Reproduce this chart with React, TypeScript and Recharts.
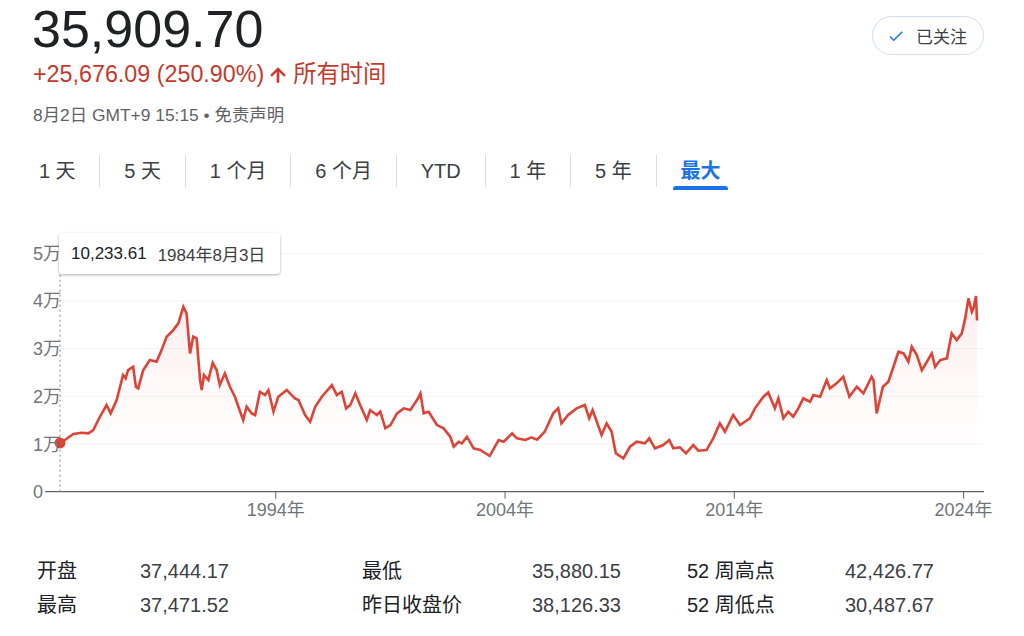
import React from "react";
import {
  AreaChart,
  Area,
  XAxis,
  YAxis,
  CartesianGrid,
  ReferenceLine,
  ReferenceDot,
} from "recharts";

const FONT = '"Liberation Sans", "Noto Sans CJK SC", Arial, sans-serif';
const RED = "#db4437";
const BLUE = "#1a73e8";

const price = "35,909.70";
const change = "+25,676.09 (250.90%)";
const changeLabel = "所有时间";
const stamp = "8月2日 GMT+9 15:15 • 免责声明";
const followLabel = "已关注";
const ranges = ["1 天", "5 天", "1 个月", "6 个月", "YTD", "1 年", "5 年", "最大"];
const activeRange = "最大";

const hoverValue = "10,233.61";
const hoverDate = "1984年8月3日";

// decimal years
const tradeYears = [
  1984.59, 1984.85, 1985.17, 1985.54, 1985.83, 1986.04, 1986.33, 1986.62, 1986.8, 1987.06,
  1987.34, 1987.45, 1987.56, 1987.78, 1987.9, 1988.0, 1988.22, 1988.51, 1988.8, 1989.02,
  1989.24, 1989.53, 1989.75, 1989.97, 1990.11, 1990.26, 1990.4, 1990.55, 1990.7, 1990.77,
  1990.87, 1991.06, 1991.25, 1991.42, 1991.56, 1991.78, 1992.0, 1992.22, 1992.37, 1992.58,
  1992.73, 1992.95, 1993.1, 1993.31, 1993.53, 1993.68, 1993.9, 1994.11, 1994.48, 1994.62,
  1994.84, 1994.99, 1995.28, 1995.5, 1995.72, 1996.01, 1996.45, 1996.66, 1996.88, 1997.07,
  1997.25, 1997.47, 1997.68, 1997.97, 1998.12, 1998.41, 1998.56, 1998.78, 1999.0, 1999.29,
  1999.58, 1999.87, 2000.16, 2000.31, 2000.45, 2000.67, 2001.03, 2001.32, 2001.61, 2001.76,
  2001.98, 2002.12, 2002.34, 2002.63, 2002.92, 2003.33, 2003.72, 2003.94, 2004.31, 2004.52,
  2004.89, 2005.15, 2005.4, 2005.73, 2006.1, 2006.32, 2006.46, 2006.75, 2007.12, 2007.48,
  2007.67, 2007.82, 2008.21, 2008.43, 2008.65, 2008.83, 2009.16, 2009.45, 2009.74, 2010.1,
  2010.29, 2010.54, 2010.9, 2011.16, 2011.34, 2011.63, 2011.89, 2012.21, 2012.43, 2012.79,
  2013.08, 2013.37, 2013.59, 2013.95, 2014.25, 2014.68, 2014.9, 2015.27, 2015.48, 2015.77,
  2015.92, 2016.14, 2016.35, 2016.57, 2016.79, 2017.01, 2017.3, 2017.45, 2017.74, 2018.03,
  2018.17, 2018.46, 2018.75, 2019.02, 2019.34, 2019.63, 2019.99, 2020.07, 2020.21, 2020.48,
  2020.72, 2020.94, 2021.16, 2021.38, 2021.59, 2021.74, 2021.96, 2022.18, 2022.4, 2022.61,
  2022.76, 2022.98, 2023.27, 2023.48, 2023.7, 2023.92, 2024.07, 2024.21, 2024.36, 2024.43,
  2024.54, 2024.585,
];

const closeValues = [
  10233.61, 11000, 12100, 12370, 12240, 12930, 15720, 18180, 16430, 19220,
  24460, 23800, 25510, 26210, 22010, 21680, 25510, 27610, 27250, 29700,
  32500, 33900, 35300, 38790, 37400, 29000, 32500, 32150, 23420, 21320,
  24460, 23420, 27040, 25510, 22370, 24820, 22010, 19920, 17820, 15030,
  17820, 16430, 16080, 20960, 20270, 21320, 16770, 19920, 21320, 20630,
  19580, 19220, 16080, 14680, 17820, 19920, 22370, 20270, 20960, 17480,
  18180, 20630, 18180, 15030, 17130, 16080, 16770, 13290, 13980, 16430,
  17480, 17130, 19220, 20630, 16430, 16770, 13980, 13290, 11530, 9430,
  10480, 10150, 11530, 9100, 8740, 7480, 10840, 10480, 12240, 11190,
  10840, 11400, 10900, 12580, 16430, 17480, 14340, 16080, 17480, 18180,
  15390, 17130, 11890, 14340, 12580, 8050, 7000, 9430, 10480, 10150,
  11190, 9100, 9790, 10840, 9100, 9310, 8050, 9790, 8600, 8740,
  11190, 14340, 12580, 16080, 13980, 15390, 17480, 19920, 20800, 17480,
  19580, 15390, 16770, 15720, 17480, 19580, 18870, 20270, 19920, 23420,
  21680, 22720, 24110, 19920, 22010, 20630, 24110, 23420, 16430, 22010,
  23060, 26210, 29350, 29000, 27250, 30400, 28660, 25510, 27250, 29000,
  26210, 27610, 27970, 33210, 31800, 33210, 36350, 40540, 37740, 38440,
  41030, 35909.7,
];

const yTicks = [0, 10000, 20000, 30000, 40000, 50000];
const xTicks = [1994, 2004, 2014, 2024];

const statLabels = [
  ["开盘", "最高"],
  ["最低", "昨日收盘价"],
  ["52 周高点", "52 周低点"],
];
const statValues = [
  ["37,444.17", "37,471.52"],
  ["35,880.15", "38,126.33"],
  ["42,426.77", "30,487.67"],
];

const rows = tradeYears.map((t, i) => ({ t, v: closeValues[i] }));

const fmtY = (n: number) => (n === 0 ? "0" : `${n / 10000}万`);

const YTick = (props: any) => {
  const { y, payload } = props;
  return (
    <text
      x={33}
      y={y}
      dy="0.36em"
      textAnchor="start"
      fill="#70757a"
      fontSize={18}
      fontFamily={FONT}
    >
      {fmtY(payload.value)}
    </text>
  );
};

const labelCols = [37, 362, 687];
const valueCols = [140, 532, 845];
const rowTops = [561, 595];

export default function App() {
  return (
    <div
      style={{
        position: "absolute",
        left: 0,
        top: 0,
        width: 1024,
        height: 636,
        background: "#fff",
        fontFamily: FONT,
        overflow: "hidden",
      }}
    >
      {/* header */}
      <div style={{ position: "absolute", left: 32, top: 3, fontSize: 52, lineHeight: "52px", color: "#202124" }}>
        {price}
      </div>
      <div
        style={{
          position: "absolute",
          left: 33,
          top: 63,
          fontSize: 23.3,
          lineHeight: "23px",
          color: "#c5392b",
          whiteSpace: "nowrap",
          display: "flex",
          alignItems: "center",
        }}
      >
        <span>{change}</span>
        <svg width="22" height="22" viewBox="0 0 24 24" style={{ margin: "0 4px 0 3px" }}>
          <path fill="#c5392b" stroke="#c5392b" strokeWidth={1} d="M4 12l1.41 1.41L11 7.83V20h2V7.83l5.58 5.59L20 12l-8-8-8 8z" />
        </svg>
        <span>{changeLabel}</span>
      </div>
      <div
        style={{
          position: "absolute",
          left: 33,
          top: 107,
          fontSize: 17.4,
          lineHeight: "17px",
          color: "#5f6368",
          whiteSpace: "nowrap",
        }}
      >
        {stamp}
      </div>

      {/* follow button */}
      <div
        style={{
          position: "absolute",
          left: 872,
          top: 16,
          width: 110,
          height: 37,
          border: "1px solid #d2dbe8",
          borderRadius: 20,
          display: "flex",
          alignItems: "center",
          boxSizing: "content-box",
        }}
      >
        <svg width="18" height="18" viewBox="0 0 24 24" style={{ marginLeft: 14 }}>
          <path fill={BLUE} d="M9 16.17L4.83 12l-1.42 1.41L9 19 21 7l-1.41-1.41z" />
        </svg>
        <span style={{ marginLeft: 11, fontSize: 17, color: "#3c4043" }}>{followLabel}</span>
      </div>

      {/* range tabs */}
      <div style={{ position: "absolute", left: 15, top: 155, height: 36, display: "flex" }}>
        {ranges.map((r, i) => (
          <div
            key={r}
            style={{
              position: "relative",
              padding: "0 23.9px",
              height: 32,
              lineHeight: "32px",
              fontSize: 20,
              whiteSpace: "nowrap",
              color: r === activeRange ? BLUE : "#3c4043",
              fontWeight: r === activeRange ? 600 : 400,
              borderLeft: i === 0 ? "none" : "1px solid #dadce0",
            }}
          >
            {r}
            {r === activeRange && (
              <div
                style={{
                  position: "absolute",
                  left: 16,
                  right: 16,
                  top: 31,
                  height: 4,
                  background: BLUE,
                  borderRadius: "3px 3px 0 0",
                }}
              />
            )}
          </div>
        ))}
      </div>

      {/* chart */}
      <div style={{ position: "absolute", left: 0, top: 230 }}>
        <AreaChart
          width={1024}
          height={310}
          data={rows}
          margin={{ top: 23.3, right: 40, bottom: 8.3, left: 0 }}
        >
          <defs>
            <linearGradient id="fade" x1="0" y1="0" x2="0" y2="1">
              <stop offset="0%" stopColor={RED} stopOpacity={0.16} />
              <stop offset="45%" stopColor={RED} stopOpacity={0.06} />
              <stop offset="80%" stopColor={RED} stopOpacity={0} />
            </linearGradient>
          </defs>
          <CartesianGrid horizontal vertical={false} stroke="#f1f3f4" />
          <XAxis
            dataKey="t"
            type="number"
            domain={[1984.59, 2024.89]}
            ticks={xTicks}
            tickFormatter={(v: number) => `${v}年`}
            axisLine={false}
            tickLine={{ stroke: "#5f6368" }}
            tickSize={7}
            tickMargin={5}
            height={40}
            tick={{ fill: "#70757a", fontSize: 18, fontFamily: FONT }}
          />
          <YAxis
            domain={[0, 50000]}
            ticks={yTicks}
            width={60}
            axisLine={false}
            tickLine={false}
            tick={<YTick />}
          />
          <Area
            type="linear"
            dataKey="v"
            stroke={RED}
            strokeWidth={2.6}
            fill="url(#fade)"
            isAnimationActive={false}
            dot={false}
            activeDot={false}
          />
          <ReferenceLine
            segment={[
              { x: 1983.94, y: 0 },
              { x: 2024.89, y: 0 },
            ]}
            stroke="#5f6368"
            strokeWidth={1.3}
            ifOverflow="visible"
          />
          <ReferenceLine x={tradeYears[0]} stroke="#80868b" strokeDasharray="2 3" />
          <ReferenceDot
            x={tradeYears[0]}
            y={closeValues[0]}
            r={5.5}
            fill={RED}
            stroke="none"
            ifOverflow="visible"
          />
        </AreaChart>
      </div>

      {/* hover card */}
      <div
        style={{
          position: "absolute",
          left: 59,
          top: 233,
          width: 221,
          height: 41,
          background: "#fff",
          borderRadius: 3,
          boxShadow: "0 1px 3px rgba(60,64,67,0.3), 0 1px 2px rgba(60,64,67,0.15)",
          display: "flex",
          alignItems: "center",
          fontSize: 17,
          whiteSpace: "nowrap",
        }}
      >
        <span style={{ marginLeft: 12, color: "#202124" }}>{hoverValue}</span>
        <span style={{ marginLeft: 11, color: "#3c4043" }}>{hoverDate}</span>
      </div>

      {/* stats */}
      {statLabels.map((col, c) =>
        col.map((label, r) => (
          <React.Fragment key={label}>
            <div
              style={{
                position: "absolute",
                left: labelCols[c],
                top: rowTops[r],
                fontSize: 20,
                lineHeight: "20px",
                color: "#202124",
                whiteSpace: "nowrap",
              }}
            >
              {label}
            </div>
            <div
              style={{
                position: "absolute",
                left: valueCols[c],
                top: rowTops[r],
                fontSize: 20,
                lineHeight: "20px",
                color: "#3c4043",
                whiteSpace: "nowrap",
              }}
            >
              {statValues[c][r]}
            </div>
          </React.Fragment>
        ))
      )}
    </div>
  );
}
